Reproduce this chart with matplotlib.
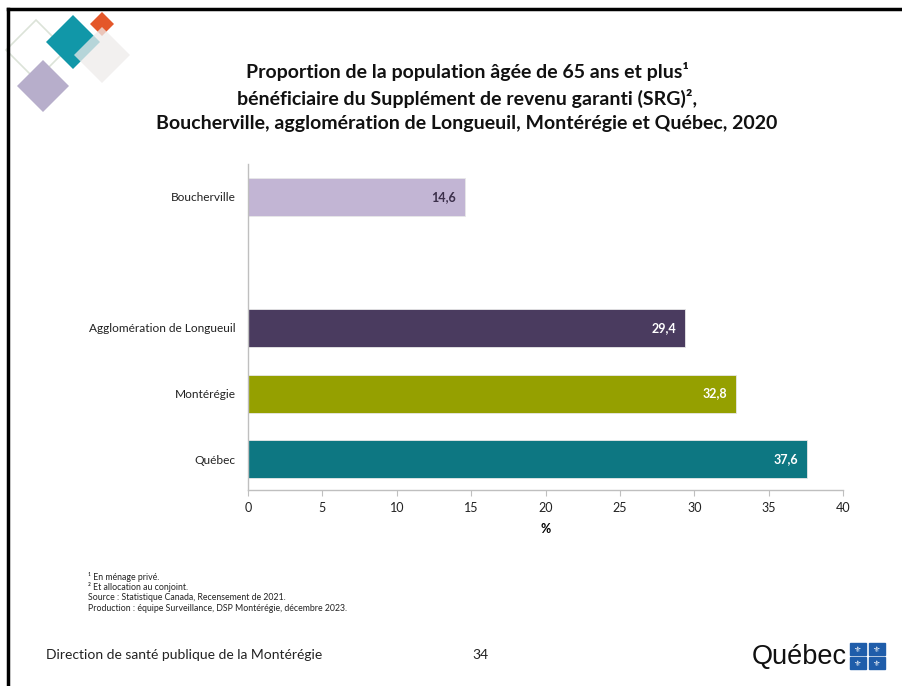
import matplotlib
matplotlib.use("Agg")
import matplotlib.pyplot as plt
from matplotlib.patches import Polygon, Rectangle
from matplotlib.lines import Line2D

plt.rcParams['font.family'] = ['Lato', 'DejaVu Sans']

# ---- data ----
categories = ["Québec", "Montérégie", "Agglomération de Longueuil", "", "Boucherville"]
values = [37.6, 32.8, 29.4, None, 14.6]
labels = ["37,6", "32,8", "29,4", "", "14,6"]
colors = ["#0D7782", "#95A000", "#4A3B5F", "#FFFFFF", "#C2B5D4"]
label_colors = ["white", "white", "white", "white", "#3B2F4A"]
xticks = [0, 5, 10, 15, 20, 25, 30, 35, 40]

title = ("Proportion de la population âgée de 65 ans et plus¹\n"
         "bénéficiaire du Supplément de revenu garanti (SRG)²,\n"
         "Boucherville, agglomération de Longueuil, Montérégie et Québec, 2020")
footnotes = ["¹ En ménage privé.",
             "² Et allocation au conjoint.",
             "Source : Statistique Canada, Recensement de 2021.",
             "Production : équipe Surveillance, DSP Montérégie, décembre 2023."]

W, H = 902, 686
fig = plt.figure(figsize=(W / 100, H / 100), dpi=100)

def fx(px):
    return px / W

def fy(py):
    return 1 - py / H

ax = fig.add_axes([fx(248), fy(490), fx(843) - fx(248), fy(164) - fy(490)])

ypos = list(range(len(categories)))
for y, v, c, lab, lc in zip(ypos, values, colors, labels, label_colors):
    if v is None:
        continue
    ax.barh(y, v, height=0.58, color=c, edgecolor="#E8E8E8", linewidth=0.6)
    ax.text(v - 0.6, y, lab, ha="right", va="center", fontsize=9,
            fontweight="bold", color=lc)

ax.set_xlim(0, 40)
ax.set_ylim(-0.47, 4.5)
ax.set_xticks(xticks)
ax.set_xticklabels([str(t) for t in xticks], fontsize=9, color="#222222")
ax.set_yticks(ypos)
ax.set_yticklabels(categories, fontsize=8.6, color="#222222")
ax.tick_params(axis="y", length=0, pad=9)
ax.tick_params(axis="x", length=4, color="#BFBFBF", pad=5)
for s in ["top", "right"]:
    ax.spines[s].set_visible(False)
for s in ["left", "bottom"]:
    ax.spines[s].set_color("#BFBFBF")
    ax.spines[s].set_linewidth(1.0)
ax.set_xlabel("%", fontsize=9, fontweight="bold", labelpad=6)

# title
fig.text(fx(467), fy(97), title, ha="center", va="center", fontsize=14,
         fontweight="bold", linespacing=1.5, color="#111111")

# footnotes
for i, t in enumerate(footnotes):
    fig.text(fx(88), fy(577 + i * 10.5), t, ha="left", va="center",
             fontsize=6.3, color="#222222")

# footer
fig.text(fx(46), fy(655), "Direction de santé publique de la Montérégie",
         ha="left", va="center", fontsize=10, color="#222222")
fig.text(fx(480), fy(655), "34", ha="center", va="center", fontsize=10,
         color="#222222")

# Québec logo
fig.text(fx(847), fy(657), "Québec", ha="right", va="center", fontsize=19.5,
         color="#111111", family="Liberation Sans")
for (cx, cy) in [(858, 649), (877, 649), (858, 663), (877, 663)]:
    fig.patches.append(Rectangle((fx(cx - 8), fy(cy + 6)), fx(16), 12 / H,
                                 transform=fig.transFigure, color="#1F5DAA"))
    fig.text(fx(cx), fy(cy), "⚜", ha="center", va="center", fontsize=6,
             color="white", family="DejaVu Sans")

# decorative diamonds (top-left)
def diamond(cx, cy, r, **kw):
    pts = [(fx(cx), fy(cy - r)), (fx(cx + r), fy(cy)),
           (fx(cx), fy(cy + r)), (fx(cx - r), fy(cy))]
    fig.patches.append(Polygon(pts, closed=True, transform=fig.transFigure, **kw))

diamond(36, 50, 30, facecolor="none", edgecolor="#DCE3D8", linewidth=1.2)
diamond(43, 86, 26, facecolor="#B7AECB", edgecolor="none")
diamond(102, 24, 12, facecolor="#E4572A", edgecolor="none")
diamond(73, 42, 27, facecolor="#1197A8", edgecolor="none")
diamond(102, 55, 28, facecolor="#EEEBEA", edgecolor="none", alpha=0.75)

# frame lines (top and left)
fig.lines.append(Line2D([fx(8), 1], [fy(9), fy(9)], transform=fig.transFigure,
                        color="black", linewidth=2.5))
fig.lines.append(Line2D([fx(8), fx(8)], [fy(9), 0], transform=fig.transFigure,
                        color="black", linewidth=2.5))

fig.savefig("out.png", dpi=100, facecolor="white")
